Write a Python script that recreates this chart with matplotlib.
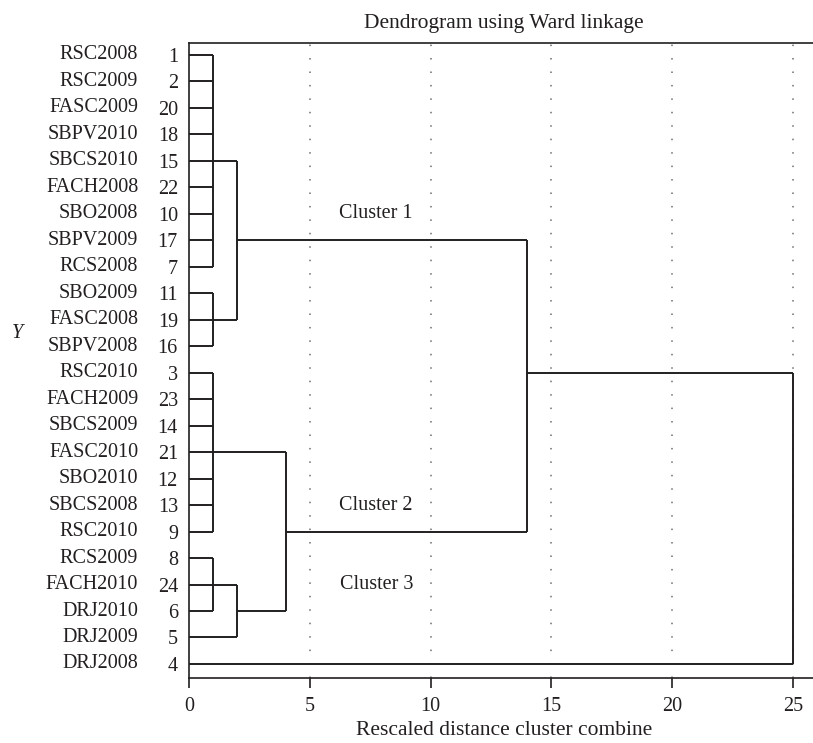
import matplotlib
matplotlib.use("Agg")
import matplotlib.pyplot as plt

plt.rcParams['font.family'] = ['Liberation Serif', 'DejaVu Serif']

# ---- data ----
leaf_names = ["RSC2008", "RSC2009", "FASC2009", "SBPV2010", "SBCS2010", "FACH2008",
              "SBO2008", "SBPV2009", "RCS2008", "SBO2009", "FASC2008", "SBPV2008",
              "RSC2010", "FACH2009", "SBCS2009", "FASC2010", "SBO2010", "SBCS2008",
              "RSC2010", "RCS2009", "FACH2010", "DRJ2010", "DRJ2009", "DRJ2008"]
leaf_ids = [1, 2, 20, 18, 15, 22, 10, 17, 7, 11, 19, 16,
            3, 23, 14, 21, 12, 13, 9, 8, 24, 6, 5, 4]

# merges: children are case numbers (int) or earlier merges ("M#")
merge_children = [
    [1, 2, 20, 18, 15, 22, 10, 17, 7],   # M0
    [11, 19, 16],                        # M1
    ["M0", "M1"],                        # M2
    [3, 23, 14, 21, 12, 13, 9],          # M3
    [8, 24, 6],                          # M4
    ["M4", 5],                           # M5
    ["M3", "M5"],                        # M6
    ["M2", "M6"],                        # M7
    ["M7", 4],                           # M8
]
merge_distance = [1, 1, 2, 1, 1, 2, 4, 14, 25]

x_ticks = [0, 5, 10, 15, 20, 25]
cluster_labels = ["Cluster 1", "Cluster 2", "Cluster 3"]
cluster_label_rows = [6, 17, 20]

# ---- figure ----
W, H = 813, 743
fig = plt.figure(figsize=(W / 100, H / 100), dpi=100)
ax = fig.add_axes([189 / W, 1 - 678 / H, 1 - 189 / W, (678 - 43) / H])

XMAX = (813 - 189) / 24.16
ax.set_xlim(0, XMAX)
ax.set_ylim(len(leaf_ids) - 1 + 0.53, -0.45)

TXT = '#231f20'
line_kw = dict(color=TXT, lw=1.4, solid_capstyle='butt', zorder=3)

# grid
for gx in x_ticks[1:]:
    ax.axvline(gx, color='#6e6e6e', lw=1.1, linestyle=(0, (1, 7.8)), zorder=1)

row_of = {cid: i for i, cid in enumerate(leaf_ids)}
nodes = {}
for k, (children, dist) in enumerate(zip(merge_children, merge_distance)):
    rows = []
    for c in children:
        if isinstance(c, str):
            r, x0 = nodes[c]
        else:
            r, x0 = row_of[c], 0
        ax.plot([x0, dist], [r, r], **line_kw)
        rows.append(r)
    lo, hi = min(rows), max(rows)
    ax.plot([dist, dist], [lo, hi], **line_kw)
    nodes["M%d" % k] = ((lo + hi) // 2, dist)

FS = 14.5
# y tick labels: case numbers, names further left
ax.set_yticks(range(len(leaf_ids)))
ax.set_yticklabels([str(v) for v in leaf_ids], fontsize=FS, color=TXT)
ax.tick_params(axis='y', length=0, pad=8)
for i, name in enumerate(leaf_names):
    ax.annotate(name, xy=(0, i), xycoords=('axes fraction', 'data'),
                xytext=(-36.5, 0), textcoords='offset points',
                ha='right', va='center', fontsize=FS, color=TXT)

ax.set_xticks(x_ticks)
ax.set_xticklabels([str(v) for v in x_ticks], fontsize=FS, color=TXT)
ax.tick_params(axis='x', direction='out', length=7, width=1.2, pad=6.5, color=TXT)

for s in ['top', 'bottom', 'left']:
    ax.spines[s].set_linewidth(1.2)
    ax.spines[s].set_color(TXT)
ax.spines['right'].set_visible(False)

XC = (504 - 189) / (813 - 189)
ax.annotate("Dendrogram using Ward linkage", xy=(XC, 1), xycoords='axes fraction',
            xytext=(0, 14), textcoords='offset points', ha='center', va='center',
            fontsize=15.5, color=TXT)
ax.annotate("Rescaled distance cluster combine", xy=(XC, 0), xycoords='axes fraction',
            xytext=(0, -38), textcoords='offset points', ha='center', va='center',
            fontsize=15.5, color=TXT)

for lab, r in zip(cluster_labels, cluster_label_rows):
    ax.text(7.75, r, lab, ha='center', va='center', fontsize=FS, color=TXT)

fig.text(17 / W, 1 - 333 / H, "Y", ha='center', va='center', fontsize=FS,
         style='italic', color=TXT)

fig.savefig("out.png", dpi=100)
